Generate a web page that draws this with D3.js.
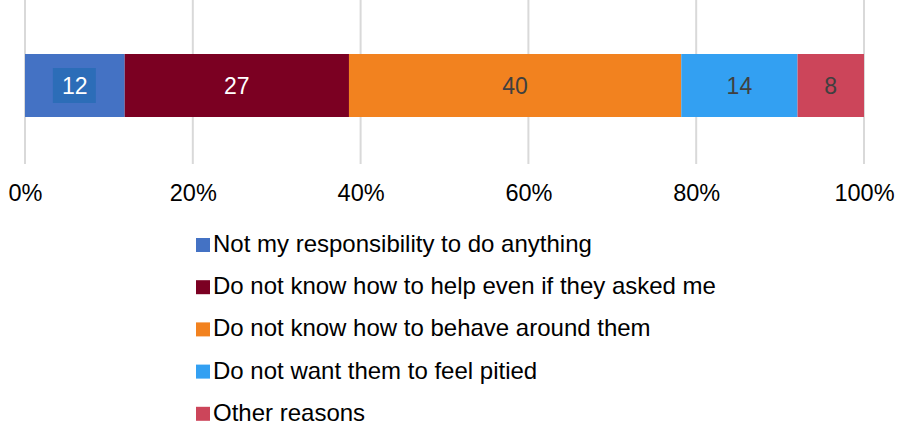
<!DOCTYPE html>
<html>
<head>
<meta charset="utf-8">
<script src="https://cdn.jsdelivr.net/npm/d3@7"></script>
<style>
  html, body { margin: 0; padding: 0; background: #fff; }
  svg { display: block; font-family: "Liberation Sans", Arial, sans-serif; }
</style>
</head>
<body>
<svg id="chart" width="901" height="426"></svg>
<script>
// Reasons (one stacked 100% bar)
const categories = [
  "Not my responsibility to do anything",
  "Do not know how to help even if they asked me",
  "Do not know how to behave around them",
  "Do not want them to feel pitied",
  "Other reasons"
];
const values = [12, 27, 40, 14, 8];
const colors = ["#4472c4", "#7b0022", "#f2821f", "#33a0f2", "#cc455a"];
const labelColors = ["#ffffff", "#ffffff", "#404040", "#404040", "#404040"];
const tickValues = [0, 0.2, 0.4, 0.6, 0.8, 1.0];

const svg = d3.select("#chart");
const x = d3.scaleLinear().domain([0, 1]).range([25, 864]);
const barTop = 54, barH = 63;

const total = d3.sum(values);
let acc = 0;
const segs = values.map((v, i) => {
  const s = { i, v, x0: acc / total, x1: (acc + v) / total };
  acc += v;
  return s;
});

// Vertical gridlines
svg.append("g")
  .selectAll("line")
  .data(tickValues)
  .join("line")
  .attr("x1", d => x(d)).attr("x2", d => x(d))
  .attr("y1", 0).attr("y2", 164)
  .attr("stroke", "#d9d9d9")
  .attr("stroke-width", 2);

// Axis tick labels
const axis = d3.axisBottom(x)
  .tickValues(tickValues)
  .tickFormat(d3.format(".0%"))
  .tickSize(0)
  .tickPadding(0);
const ag = svg.append("g").attr("transform", "translate(0,201)").call(axis);
ag.select(".domain").remove();
ag.selectAll("text")
  .attr("font-size", 23.5)
  .attr("font-family", "'Liberation Sans', Arial, sans-serif")
  .attr("fill", "#000")
  .attr("y", 0)
  .attr("dy", 0);

// Bar segments
svg.append("g")
  .selectAll("rect")
  .data(segs)
  .join("rect")
  .attr("x", d => x(d.x0))
  .attr("width", d => x(d.x1) - x(d.x0))
  .attr("y", barTop)
  .attr("height", barH)
  .attr("fill", d => colors[d.i]);

// Background box behind the first value label
const first = segs[0];
const fcx = (x(first.x0) + x(first.x1)) / 2;
svg.append("rect")
  .attr("x", fcx - 22).attr("y", 68)
  .attr("width", 43).attr("height", 35)
  .attr("fill", "#2c6db8");

// Value labels
svg.append("g")
  .selectAll("text")
  .data(segs)
  .join("text")
  .attr("x", d => (x(d.x0) + x(d.x1)) / 2)
  .attr("y", 94)
  .attr("text-anchor", "middle")
  .attr("font-size", 23)
  .attr("fill", d => labelColors[d.i])
  .text(d => d.v);

// Legend
const lg = svg.append("g");
const rows = lg.selectAll("g")
  .data(categories)
  .join("g")
  .attr("transform", (d, i) => `translate(196,${252 + i * 42.2})`);
rows.append("rect")
  .attr("x", 0).attr("y", -14)
  .attr("width", 14).attr("height", 14)
  .attr("fill", (d, i) => colors[i]);
rows.append("text")
  .attr("x", 17).attr("y", 0)
  .attr("font-size", 24)
  .attr("fill", "#000")
  .text(d => d);
</script>
</body>
</html>
